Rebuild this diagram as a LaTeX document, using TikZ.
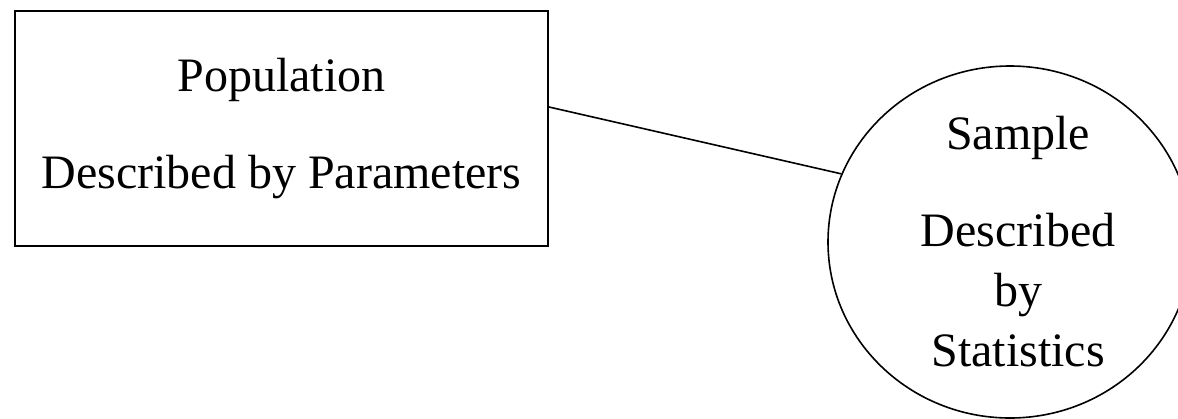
\documentclass[tikz,border=0pt]{standalone}
\usepackage{fontspec}
\setmainfont{Liberation Serif}
\usetikzlibrary{shapes.geometric}

\begin{document}
\begin{tikzpicture}[
  x=0.5pt, y=-0.5pt,
  box/.style={draw=black, line width=1pt, fill=white,
              minimum width=266.5pt, minimum height=117.5pt,
              align=center, font=\fontsize{24}{48.5}\selectfont},
  oval/.style={draw=black, line width=0.8pt, ellipse, inner sep=0pt,
               minimum width=182pt, minimum height=176pt},
  words/.style={align=center, font=\fontsize{24}{30}\selectfont, inner sep=0pt},
  link/.style={draw=black, line width=0.8pt},
]
\useasboundingbox (0,0) rectangle (1178,418);

% ---------------- population box -----------------------------------
\node[box] (pop) at (281.5,128.5) {Population\\ Described by Parameters};

% ---------------- sample oval --------------------------------------
\node[oval] (sample) at (1010,242) {};
\node[words] (sampletext) at ([xshift=4pt]sample.center)
  {Sample\\[18.5pt] Described\\ by\\ Statistics};

% ---------------- connector ----------------------------------------
\draw[link] ([yshift=10.75pt]pop.east) -- (sample.158.6);

\end{tikzpicture}
\end{document}
